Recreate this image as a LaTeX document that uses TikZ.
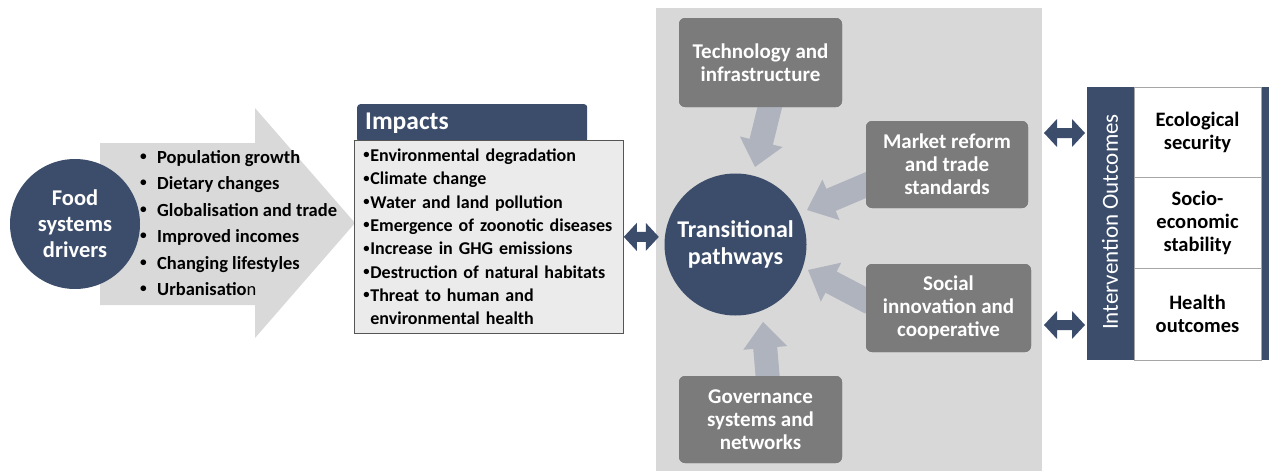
\documentclass[tikz,border=0pt]{standalone}
\usepackage{fontspec}
\setmainfont{Carlito}
\usetikzlibrary{calc}
\definecolor{dblue}{HTML}{3C4D6B}
\definecolor{lgray}{HTML}{D9D9D9}
\definecolor{bggray}{HTML}{D8D8D8}
\definecolor{boxgray}{HTML}{7B7B7B}
\definecolor{agray}{HTML}{AEB3BD}
\definecolor{impfill}{HTML}{EBEBEB}
\definecolor{bordgray}{HTML}{555555}
\newcommand{\patharr}[2]{%
  \fill[agray] let \p1=(#1), \p2=(#2), \n1={atan2(\y2-\y1,\x2-\x1)}, \n2={veclen(\x2-\x1,\y2-\y1)} in
    [shift={(\p1)}, rotate=\n1] (0pt,-12pt) -- ({\n2-26pt},-12pt) -- ({\n2-26pt},-22pt) -- ({\n2+0pt},0pt)
    -- ({\n2-26pt},22pt) -- ({\n2-26pt},12pt) -- (0pt,12pt) -- cycle;}
\newcommand{\dblarr}[2]{%
  \fill[dblue] let \p1=(#1), \p2=(#2), \n1={atan2(\y2-\y1,\x2-\x1)}, \n2={veclen(\x2-\x1,\y2-\y1)} in
    [shift={(\p1)}, rotate=\n1] (0pt,0pt) -- (13pt,14pt) -- (13pt,5pt) -- ({\n2-13pt},5pt) -- ({\n2-13pt},14pt)
    -- ({\n2+0pt},0pt) -- ({\n2-13pt},-14pt) -- ({\n2-13pt},-5pt) -- (13pt,-5pt) -- (13pt,-14pt) -- cycle;}
\newcommand{\blt}{\makebox[19pt][l]{\hspace*{2pt}\raisebox{0.3ex}{\scalebox{0.72}{•}}}}
\newcommand{\ibl}{\makebox[7pt][l]{\raisebox{0.3ex}{\scalebox{0.7}{•}}}}
\begin{document}
\begin{tikzpicture}[x=1pt,y=-1pt,
  pbox/.style={fill=boxgray, rounded corners=6pt, text=white, align=center, inner sep=0pt,
    font=\fontsize{21}{23}\selectfont\bfseries},
  obox/.style={draw=black!35, fill=white, line width=0.8pt, minimum width=127pt, inner sep=0pt, align=center,
    font=\fontsize{20.5}{23}\selectfont\bfseries}]
\useasboundingbox (0,0) rectangle (1269,471);
\fill[white] (0,0) rectangle (1269,471);

% big driver arrow
\fill[lgray] (100,143) -- (255,143) -- (255,108) -- (355,223) -- (255,338) -- (255,305) -- (100,305) -- cycle;

\node[circle, fill=dblue, minimum size=130pt, inner sep=0pt, text=white, align=center,
  font=\fontsize{22.5}{26}\selectfont\bfseries] (food) at (75,224) {Food\\systems\\drivers};

\node[anchor=west, inner sep=0pt, align=left, font=\fontsize{18.5}{26.5}\selectfont\bfseries] (drv) at (138,223)
  {\blt Population growth\\ \blt Dietary changes\\ \blt Globalisation and trade\\ \blt Improved incomes\\
   \blt Changing lifestyles\\ \blt Urbanisatio{\mdseries n}};

% impacts
\node[anchor=north west, fill=dblue, rounded corners=3pt, minimum width=230pt, minimum height=38pt,
  inner xsep=8pt, inner ysep=0pt, text width=214pt, align=left, text=white,
  font=\fontsize{25.5}{28}\selectfont\bfseries] (imph) at (357,104) {Impacts};
\node[anchor=north west, draw=bordgray, line width=0.8pt, fill=impfill, minimum width=269pt, minimum height=193pt,
  inner xsep=9pt, text width=251pt, align=left, font=\fontsize{18}{23.3}\selectfont\bfseries] (imp) at (354,140)
  {\ibl Environmental degradation\\ \ibl Climate change\\ \ibl Water and land pollution\\
   \ibl Emergence of zoonotic diseases\\ \ibl Increase in GHG emissions\\ \ibl Destruction of natural habitats\\
   \ibl Threat to human and\\ \hspace*{7pt}environmental health};

% pathways panel
\node[anchor=north west, fill=bggray, minimum width=386pt, minimum height=463pt, inner sep=0pt] (bg) at (656,8) {};

\node[circle, fill=dblue, minimum size=142pt, inner sep=0pt, text=white, align=center,
  font=\fontsize{24}{27}\selectfont\bfseries] (tp) at (735.5,244.5) {Transitional\\pathways};
\node[pbox, minimum width=163pt, minimum height=89pt] (tech) at (760.5,62.5) {Technology and\\infrastructure};
\node[pbox, minimum width=162pt, minimum height=87pt] (mk) at (947,164.5) {Market reform\\and trade\\standards};
\node[pbox, minimum width=165pt, minimum height=88pt] (so) at (948.5,308) {Social\\innovation and\\cooperative};
\node[pbox, minimum width=163pt, minimum height=87pt] (gov) at (760.5,419.5) {Governance\\systems and\\networks};

\patharr{[xshift=10.5pt,yshift=5pt]tech.south}{$(tp.center)+(19.5,-77.5)$}
\patharr{[xshift=5pt,yshift=-18.5pt]mk.west}{$(tp.center)+(71.5,-34.5)$}
\patharr{[xshift=5pt,yshift=5pt]so.west}{$(tp.center)+(72.5,25.5)$}
\patharr{[xshift=7.5pt,yshift=-5pt]gov.north}{$(tp.center)+(27.5,77.5)$}

% redraw boxes above arrow tails
\node[pbox, minimum width=163pt, minimum height=89pt] at (tech) {Technology and\\infrastructure};
\node[pbox, minimum width=162pt, minimum height=87pt] at (mk) {Market reform\\and trade\\standards};
\node[pbox, minimum width=165pt, minimum height=88pt] at (so) {Social\\innovation and\\cooperative};
\node[pbox, minimum width=163pt, minimum height=87pt] at (gov) {Governance\\systems and\\networks};

% outcomes
\node[anchor=north west, fill=dblue, minimum width=182pt, minimum height=273pt, inner sep=0pt] (obar) at (1087,87) {};
\node[obox, minimum height=90pt] (eco) at (1197.5,132) {Ecological\\security};
\node[obox, minimum height=91pt] (soc) at (1197.5,222.5) {Socio-\\economic\\stability};
\node[obox, minimum height=92pt] (hea) at (1197.5,314) {Health\\outcomes};
\node[rotate=90, text=white, inner sep=0pt, font=\fontsize{23}{26}\selectfont] (iolab) at (1110,222) {Intervention Outcomes};

% double arrows
\dblarr{imp.east}{$(imp.east)+(35,0)$}
\coordinate (r1) at (obar.west |- eco.center);
\coordinate (r2) at (obar.west |- hea.center);
\dblarr{$(r1)+(-43,1)$}{$(r1)+(-2,1)$}
\dblarr{$(r2)+(-43,11)$}{$(r2)+(-2,11)$}
\end{tikzpicture}
\end{document}
